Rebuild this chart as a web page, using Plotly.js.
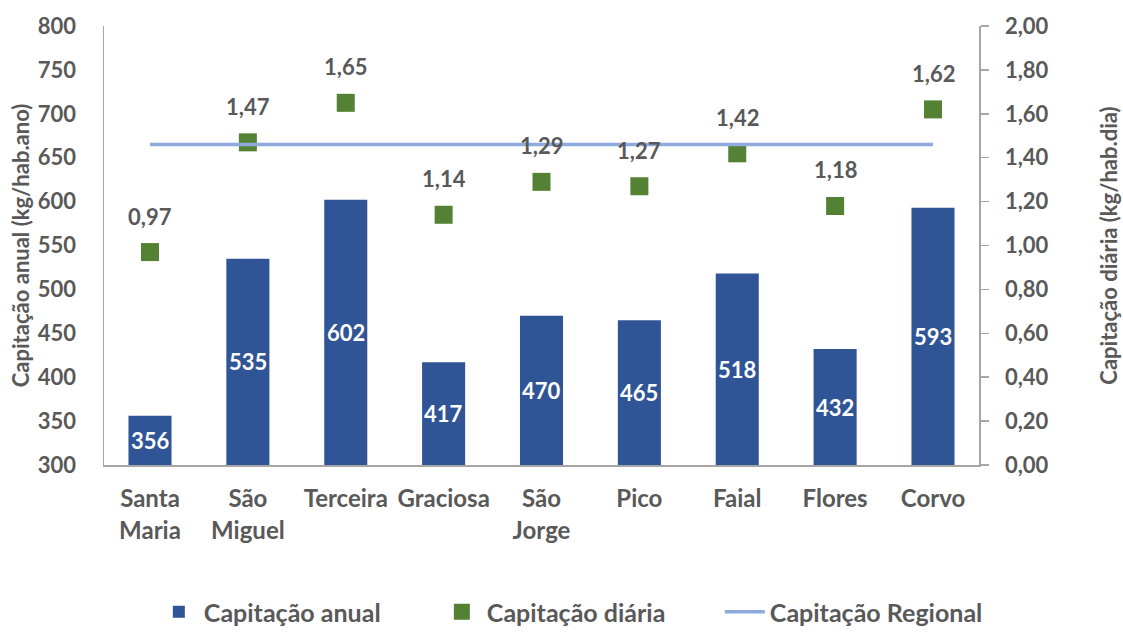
<!DOCTYPE html>
<html>
<head>
<meta charset="utf-8">
<script src="https://cdn.plot.ly/plotly-3.0.1.min.js"></script>
<style>html,body{margin:0;padding:0;background:#fff;}#chart{width:1123px;height:637px;}</style>
</head>
<body>
<div id="chart"></div>
<script>
const categories = ["Santa<br>Maria", "São<br>Miguel", "Terceira", "Graciosa", "São<br>Jorge", "Pico", "Faial", "Flores", "Corvo"];
const capAnual = [356, 535, 602, 417, 470, 465, 518, 432, 593];
const capDiaria = [0.97, 1.47, 1.65, 1.14, 1.29, 1.27, 1.42, 1.18, 1.62];
const capRegional = [1.46, 1.46, 1.46, 1.46, 1.46, 1.46, 1.46, 1.46, 1.46];
const leftTicks = [300, 350, 400, 450, 500, 550, 600, 650, 700, 750, 800];
const rightTicks = [0, 0.2, 0.4, 0.6, 0.8, 1.0, 1.2, 1.4, 1.6, 1.8, 2.0];

const FONT = "Lato, 'Open Sans', sans-serif";
const GRAY = "#595959";
const FS = 22;
const fmt = v => v.toFixed(2).replace(".", ",");
const yMin = leftTicks[0];
const yMax = leftTicks[leftTicks.length - 1];

const traces = [
  {
    type: "bar", name: "Capitação anual", x: categories, y: capAnual,
    marker: {color: "#2F5597"}, width: 0.44, hoverinfo: "x+y"
  },
  {
    type: "scatter", mode: "markers", name: "Capitação diária", x: categories, y: capDiaria,
    yaxis: "y2", marker: {symbol: "square", size: 18, color: "#548235"}
  },
  {
    type: "scatter", mode: "lines", name: "Capitação Regional", x: categories, y: capRegional,
    yaxis: "y2", line: {color: "#8FAADC", width: 3.5}
  }
];

const dailyLabels = categories.map((c, i) => ({
  x: c, y: capDiaria[i], xref: "x", yref: "y2", text: fmt(capDiaria[i]),
  showarrow: false, yshift: 36,
  font: {family: FONT, size: FS, color: GRAY, weight: 700}
}));
const barLabels = categories.map((c, i) => ({
  x: c, y: (yMin + capAnual[i]) / 2, xref: "x", yref: "y", text: String(capAnual[i]),
  showarrow: false,
  font: {family: FONT, size: FS, color: "#ffffff", weight: 700}
}));

const layout = {
  width: 1123, height: 637,
  margin: {l: 104, r: 144, t: 26, b: 172, autoexpand: false},
  paper_bgcolor: "#ffffff", plot_bgcolor: "#ffffff",
  separators: ", ",
  showlegend: true,
  font: {family: FONT, size: FS, color: GRAY, weight: 700},
  xaxis: {
    type: "category", range: [-0.47, 8.47],
    showline: true, linecolor: "#A6A6A6", linewidth: 1.5,
    ticks: "", showgrid: false, zeroline: false, ticklabelstandoff: 12,
    tickfont: {family: FONT, size: 24, color: GRAY, weight: 700}
  },
  yaxis: {
    range: [yMin, yMax], tickvals: leftTicks, ticktext: leftTicks.map(String),
    showline: true, linecolor: "#A6A6A6", linewidth: 1.5, ticks: "",
    showgrid: false, zeroline: false, ticklabelstandoff: 22,
    tickfont: {family: FONT, size: FS, color: GRAY, weight: 700},
    title: {text: "Capitação anual (kg/hab.ano)", standoff: 2,
      font: {family: FONT, size: FS, color: GRAY, weight: 700}}
  },
  yaxis2: {
    overlaying: "y", side: "right", range: [0, 2],
    tickvals: rightTicks, ticktext: rightTicks.map(fmt),
    showline: true, linecolor: "#A6A6A6", linewidth: 1.5,
    ticks: "outside", ticklen: 8, tickcolor: "#A6A6A6", tickwidth: 1.5,
    showgrid: false, zeroline: false, ticklabelstandoff: 12,
    tickfont: {family: FONT, size: FS, color: GRAY, weight: 700},
    title: {text: "Capitação diária (kg/hab.dia)", standoff: 54,
      font: {family: FONT, size: FS, color: GRAY, weight: 700}}
  },
  legend: {
    orientation: "h", xref: "container", yref: "container",
    x: 0.515, xanchor: "center", y: 0.003, yanchor: "bottom",
    font: {family: FONT, size: 25, color: GRAY, weight: 700},
    itemwidth: 40, traceorder: "normal", entrywidth: 228
  },
  annotations: dailyLabels.concat(barLabels)
};

Plotly.newPlot("chart", traces, layout, {displayModeBar: false, staticPlot: true});
</script>
</body>
</html>
